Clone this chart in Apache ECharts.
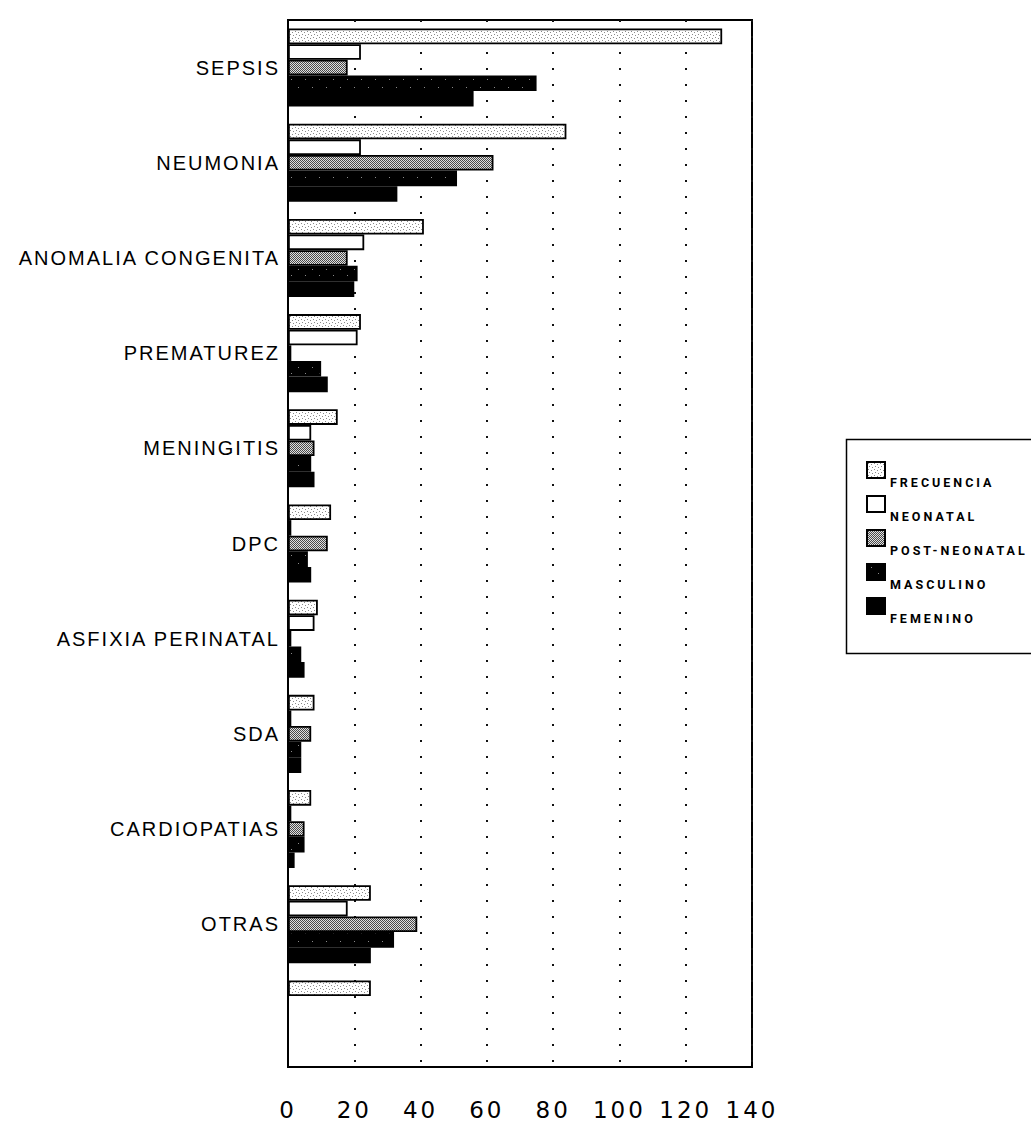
<!DOCTYPE html>
<html>
<head>
<meta charset="utf-8">
<script src="https://cdn.jsdelivr.net/npm/echarts@6/dist/echarts.min.js"></script>
<style>
  html, body { margin: 0; padding: 0; background: #fff; }
  #chart { width: 1031px; height: 1124px; }
  /* wide, typewriter-like spacing of the printed labels */
  #chart text[style*="Liberation"] { letter-spacing: 2px; }
  #chart text[style*="DejaVu"] { letter-spacing: 3px; }
  #chart text[style*="Roboto"] { letter-spacing: 3px; }
</style>
</head>
<body>
<div id="chart"></div>
<script>
// Causes of death, by age group and sex
const categories = ['SEPSIS', 'NEUMONIA', 'ANOMALIA CONGENITA', 'PREMATUREZ', 'MENINGITIS',
                    'DPC', 'ASFIXIA PERINATAL', 'SDA', 'CARDIOPATIAS', 'OTRAS', ''];
const frecuencia   = [131, 84, 41, 22, 15, 13, 9, 8, 7, 25, 25];
const neonatal     = [22, 22, 23, 21, 7, 1, 8, 1, 1, 18, null];
const postNeonatal = [18, 62, 18, 1, 8, 12, 1, 7, 5, 39, null];
const masculino    = [75, 51, 21, 10, 7, 6, 4, 4, 5, 32, null];
const femenino     = [56, 33, 20, 12, 8, 7, 5, 4, 2, 25, null];
const seriesNames  = ['FRECUENCIA', 'NEONATAL', 'POST-NEONATAL', 'MASCULINO', 'FEMENINO'];
const xMin = 0, xMax = 140, xStep = 20;

// small repeating stipple tiles for the shaded bars
function stipple(size, bg, fg, dots) {
  const c = document.createElement('canvas');
  c.width = c.height = size;
  const g = c.getContext('2d');
  g.fillStyle = bg; g.fillRect(0, 0, size, size);
  g.fillStyle = fg;
  dots.forEach(([x, y]) => g.fillRect(x, y, 1, 1));
  return { image: c.toDataURL(), imageWidth: size, imageHeight: size, repeat: 'repeat' };
}
const fillFrec = stipple(6, '#ffffff', '#8a8a8a', [[1, 1], [4, 2], [2, 4], [5, 5]]);
const fillPost = stipple(4, '#e0e0e0', '#4a4a4a',
  [[0, 0], [2, 0], [1, 1], [3, 1], [0, 2], [2, 2], [1, 3], [3, 3]]);
const fillMasc = stipple(14, '#000000', '#8a8a8a', [[4, 3], [11, 9]]);
const fills = [fillFrec, '#ffffff', fillPost, fillMasc, '#000000'];
const values = [frecuencia, neonatal, postNeonatal, masculino, femenino];

const chart = echarts.init(document.getElementById('chart'), null, { renderer: 'svg' });

chart.setOption({
  animation: false,
  backgroundColor: '#fff',
  grid: {
    left: 288, right: 279, top: 20, bottom: 57,
    show: true, borderColor: '#000', borderWidth: 2, backgroundColor: 'transparent'
  },
  xAxis: {
    type: 'value', min: xMin, max: xMax, interval: xStep,
    axisLine: { show: true, lineStyle: { color: '#000', width: 2 } },
    axisTick: { show: false },
    axisLabel: { color: '#000', fontSize: 23, fontFamily: 'DejaVu Sans', margin: 31 },
    splitLine: { show: true, lineStyle: { color: '#111', width: 2, type: [2, 14] } }
  },
  yAxis: {
    type: 'category', inverse: true, data: categories,
    axisLine: { show: true, lineStyle: { color: '#000', width: 2 } },
    axisTick: { show: false },
    axisLabel: { color: '#000', fontSize: 20, fontFamily: 'Liberation Sans', margin: 8 },
    splitLine: { show: false }
  },
  legend: {
    orient: 'vertical', left: 866, top: 446, padding: 0,
    itemWidth: 18, itemHeight: 16, itemGap: -14,
    selectedMode: false, icon: 'rect',
    data: seriesNames,
    // an empty first line drops each name just below its swatch
    formatter: name => '\n' + name,
    textStyle: { color: '#000', fontFamily: 'Roboto', fontWeight: 'bold', fontSize: 12.5,
                 lineHeight: 24 }
  },
  graphic: [{
    type: 'rect', left: 844, top: 437, silent: true,
    shape: { width: 240, height: 214 },
    style: { fill: 'none', stroke: '#000', lineWidth: 1.5 }
  }],
  series: seriesNames.map((name, i) => ({
    name, type: 'bar', data: values[i],
    barGap: '0%', barCategoryGap: '18%',
    itemStyle: { color: fills[i], borderColor: '#000', borderWidth: 1.8 }
  }))
});
</script>
</body>
</html>
